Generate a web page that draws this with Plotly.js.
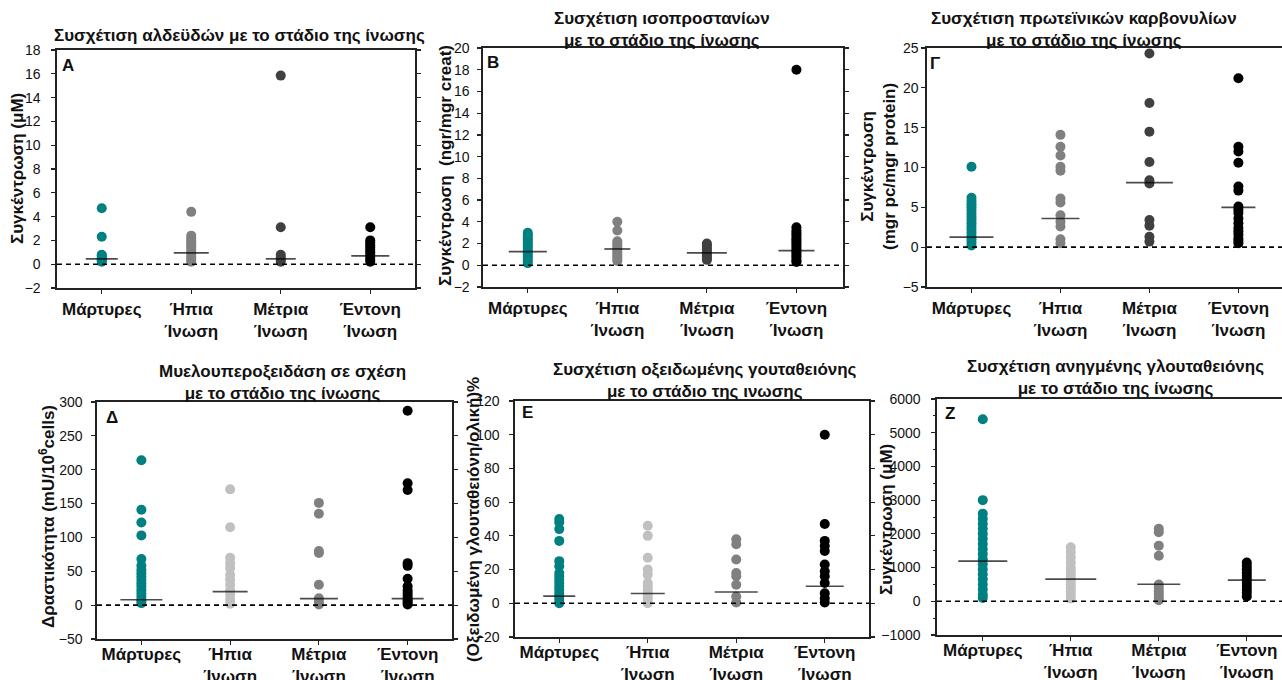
<!DOCTYPE html>
<html>
<head>
<meta charset="utf-8">
<script src="https://cdn.plot.ly/plotly-3.0.1.min.js"></script>
<style>html,body{margin:0;padding:0;background:#fff;}#chart{width:1282px;height:680px;}</style>
</head>
<body>
<div id="chart"></div>
<script>
// ---------------- DATA ----------------
const categories = ['Μάρτυρες', 'Ήπια Ίνωση', 'Μέτρια Ίνωση', 'Έντονη Ίνωση'];
const tickLabels = ['Μάρτυρες', 'Ήπια<br>Ίνωση', 'Μέτρια<br>Ίνωση', 'Έντονη<br>Ίνωση'];

// Α: aldehydes (μM)
const ald_controls = [4.7, 2.3, 0.8, 0.7, 0.6, 0.5, 0.4, 0.3, 0.2];
const ald_mild = [4.4, 2.4, 2.2, 2.0, 1.8, 1.6, 1.4, 1.2, 1.0, 0.8, 0.6, 0.4, 0.2];
const ald_moderate = [15.85, 3.1, 0.8, 0.6, 0.4, 0.2];
const ald_severe = [3.1, 2.0, 1.8, 1.6, 1.4, 1.2, 1.0, 0.8, 0.6, 0.4, 0.2];
const ald_medians = [0.45, 0.95, 0.45, 0.7];

// Β: isoprostanes (ngr/mgr creat)
const iso_controls = [3.0, 2.8, 2.6, 2.4, 2.2, 2.0, 1.8, 1.6, 1.4, 1.2, 1.0, 0.8, 0.6, 0.4, 0.2];
const iso_mild = [4.0, 3.2, 2.2, 2.0, 1.8, 1.6, 1.4, 1.2, 1.0, 0.8, 0.6, 0.4];
const iso_moderate = [2.0, 1.8, 1.6, 1.4, 1.2, 1.0, 0.8, 0.6, 0.5];
const iso_severe = [18.0, 3.5, 3.2, 3.0, 2.8, 2.6, 2.4, 2.2, 2.0, 1.8, 1.6, 1.4, 1.2, 1.0, 0.8, 0.6, 0.4, 0.3];
const iso_medians = [1.25, 1.5, 1.15, 1.35];

// Γ: protein carbonyls (mgr pc/mgr protein)
const carb_controls = [10.1, 6.2, 5.8, 5.4, 5.0, 4.6, 4.2, 3.8, 3.4, 3.0, 2.6, 2.2, 1.8, 1.4, 1.0, 0.6, 0.2];
const carb_mild = [14.1, 12.6, 11.5, 10.1, 9.6, 6.1, 5.6, 4.0, 3.2, 2.6, 1.0, 0.5];
const carb_moderate = [24.3, 18.1, 14.5, 10.7, 8.4, 8.0, 3.4, 2.7, 1.3, 0.7];
const carb_severe = [21.2, 12.6, 12.0, 10.6, 7.6, 7.1, 5.1, 4.7, 4.3, 3.6, 3.0, 2.4, 2.0, 1.6, 1.1, 0.8, 0.5];
const carb_medians = [1.25, 3.6, 8.1, 5.0];

// Δ: myeloperoxidase (mU/10^6 cells)
const mpo_controls = [214, 141, 122, 103, 68, 58, 52, 47, 42, 37, 32, 27, 22, 17, 12, 7, 3];
const mpo_mild = [171, 115, 70, 62, 55, 45, 38, 30, 22, 15, 8, 2];
const mpo_moderate = [151, 135, 80, 77, 30, 10, 5, 1];
const mpo_severe = [287, 180, 170, 62, 58, 39, 28, 22, 18, 14, 10, 7, 4, 1];
const mpo_medians = [8, 20, 9.5, 9.5];

// Ε: oxidized glutathione (% of total)
const gssg_controls = [50, 48, 44, 37, 25, 22, 18, 16, 14, 12, 10, 8, 6, 4, 2, 0];
const gssg_mild = [46, 40, 27, 20, 17, 12, 10, 8, 6, 4, 2, 0];
const gssg_moderate = [38, 35, 26, 18, 16, 11, 4, 0.5];
const gssg_severe = [100, 47, 37, 34, 31, 23, 19, 16, 12, 6, 3, 0.5];
const gssg_medians = [4.2, 5.8, 6.7, 10.1];

// Ζ: reduced glutathione (μM)
const gsh_controls = [5400, 3000, 2600, 2450, 2300, 2150, 2000, 1850, 1700, 1550, 1400, 1250, 1100, 950, 800, 650, 500, 350, 200, 100];
const gsh_mild = [1600, 1450, 1300, 1150, 1000, 900, 800, 700, 600, 500, 400, 300, 200, 80];
const gsh_moderate = [2150, 2050, 1650, 1350, 500, 400, 300, 200, 100, 30];
const gsh_severe = [1150, 1050, 950, 850, 750, 650, 550, 450, 350, 250, 140];
const gsh_medians = [1190, 660, 505, 630];

// ---------------- LAYOUT / STYLE ----------------
const W = 1282, H = 680;
const TEAL = '#008080';
const paletteTop = [TEAL, '#808080', '#404040', '#000000'];
const paletteBottom = [TEAL, '#c0c0c0', '#808080', '#000000'];
const FONT = 'Liberation Sans, Arial, sans-serif';
const TICKFONT = 'Liberation Sans Narrow, Arial Narrow, Liberation Sans, Arial, sans-serif';

const panels = [
  {groups: [ald_controls, ald_mild, ald_moderate, ald_severe], medians: ald_medians, pal: paletteTop,
   px: [57, 415], py: [50, 288], yr: [-2, 18], dt: 2, xr: [-0.5, 3.5], mirrorY: 'ticks', standoff: 8, xstand: 1, minor: false,
   medW: [32, 35, 30, 38],
   letter: 'Α', lx: 68, ly: 65,
   title: 'Συσχέτιση αλδεϋδών με το στάδιο της ίνωσης', tx: 239, ty: 35,
   ytitle: 'Συγκέντρωση (μΜ)', ytx: 17, yty: 169},
  {groups: [iso_controls, iso_mild, iso_moderate, iso_severe], medians: iso_medians, pal: paletteTop,
   px: [483, 843], py: [48, 287], yr: [-2, 20], dt: 2, xr: [-0.5, 3.52], mirrorY: 'ticks', standoff: 5, xstand: 1, minor: false,
   medW: [38, 26, 40, 36],
   letter: 'Β', lx: 493, ly: 62,
   title: 'Συσχέτιση ισοπροστανίων<br>με το στάδιο της ίνωσης', tx: 662, ty: 30,
   ytitle: 'Συγκέντρωση  (ngr/mgr creat)', ytx: 445, yty: 166},
  {groups: [carb_controls, carb_mild, carb_moderate, carb_severe], medians: carb_medians, pal: paletteTop,
   px: [927, 1282], py: [48, 287], yr: [-5, 25], dt: 5, xr: [-0.5, 3.49], mirrorY: false, standoff: 0, xstand: 1, minor: false,
   medW: [44, 38, 47, 34],
   letter: 'Γ', lx: 935, ly: 63,
   title: 'Συσχέτιση πρωτεϊνικών καρβονυλίων<br>με το στάδιο της ίνωσης', tx: 1084, ty: 30,
   ytitle: 'Συγκέντρωση<br>(mgr pc/mgr protein)', ytx: 878, yty: 167},
  {groups: [mpo_controls, mpo_mild, mpo_moderate, mpo_severe], medians: mpo_medians, pal: paletteBottom,
   px: [97, 452], py: [402, 639], yr: [-50, 300], dt: 50, xr: [-0.5, 3.5], mirrorY: 'ticks', standoff: 6, xstand: -5, minor: false,
   medW: [42, 35, 38, 32],
   letter: 'Δ', lx: 112, ly: 417,
   title: 'Μυελουπεροξειδάση σε σχέση<br>με το στάδιο της ίνωσης', tx: 282, ty: 382,
   ytitle: 'Δραστικότητα (mU/10<sup>6</sup>cells)', ytx: 47, yty: 517},
  {groups: [gssg_controls, gssg_mild, gssg_moderate, gssg_severe], medians: gssg_medians, pal: paletteBottom,
   px: [515, 869], py: [401, 637], yr: [-20, 120], dt: 20, xr: [-0.5, 3.5], mirrorY: 'ticks', standoff: 7, xstand: -5, minor: false,
   medW: [32, 34, 43, 38],
   letter: 'Ε', lx: 527, ly: 413,
   title: 'Συσχέτιση οξειδωμένης γουταθειόνης<br>με το στάδιο της ινωσης', tx: 705, ty: 380,
   ytitle: '(Οξειδωμένη γλουταθειόνη/ολική)%', ytx: 473, yty: 520},
  {groups: [gsh_controls, gsh_mild, gsh_moderate, gsh_severe], medians: gsh_medians, pal: paletteBottom,
   px: [937, 1282], py: [399, 635], yr: [-1000, 6000], dt: 1000, xr: [-0.52, 3.4], mirrorY: false, standoff: 8, xstand: -5, minor: true,
   medW: [49, 51, 43, 38],
   letter: 'Ζ', lx: 950, ly: 414,
   title: 'Συσχέτιση ανηγμένης γλουταθειόνης<br>με το στάδιο της ίνωσης', tx: 1115, ty: 377,
   ytitle: 'Συγκέντρωση (μΜ)', ytx: 886, yty: 520}
];

const fx = v => v / W;
const fy = v => 1 - v / H;

const traces = [];
const layout = {
  width: W, height: H, autosize: false,
  margin: {l: 0, r: 0, t: 0, b: 0, pad: 0},
  paper_bgcolor: '#fff', plot_bgcolor: 'rgba(0,0,0,0)',
  showlegend: false,
  font: {family: FONT, color: '#111'},
  shapes: [], annotations: []
};

panels.forEach((p, i) => {
  const n = i + 1;
  const xa = n === 1 ? 'x' : 'x' + n;
  const ya = n === 1 ? 'y' : 'y' + n;
  p.groups.forEach((vals, g) => {
    traces.push({
      type: 'scatter', mode: 'markers',
      x: vals.map(() => categories[g]), y: vals,
      xaxis: xa, yaxis: ya,
      marker: {color: p.pal[g], size: 10, line: {width: 0}},
      hoverinfo: 'y', cliponaxis: false
    });
  });
  traces.push({
    type: 'scatter', mode: 'markers',
    x: categories, y: p.medians, xaxis: xa, yaxis: ya,
    marker: {symbol: 'line-ew', color: '#000', size: p.medW.map(w => w / 1.4), line: {width: 1.7, color: '#000'}},
    hoverinfo: 'y', cliponaxis: false
  });

  layout['xaxis' + (n === 1 ? '' : n)] = {
    domain: [fx(p.px[0]), fx(p.px[1])], anchor: ya,
    type: 'category', categoryorder: 'array', categoryarray: categories,
    range: p.xr, tickvals: categories, ticktext: tickLabels,
    showgrid: false, zeroline: false, showline: true, mirror: true,
    linecolor: '#222', linewidth: 1.6,
    ticks: 'outside', ticklen: 4, tickwidth: 1.2, tickcolor: '#222',
    tickfont: {family: FONT, size: 17, color: '#111', weight: 'bold'},
    ticklabelstandoff: p.xstand, fixedrange: true
  };
  const yax = {
    domain: [fy(p.py[1]), fy(p.py[0])], anchor: xa,
    range: p.yr, dtick: p.dt, tick0: 0,
    showgrid: false, zeroline: false, showline: true, mirror: p.mirrorY,
    linecolor: '#222', linewidth: 1.6,
    ticks: 'outside', ticklen: 4, tickwidth: 1.2, tickcolor: '#222',
    tickfont: {family: TICKFONT, size: 14, color: '#111'},
    ticklabelstandoff: p.standoff, fixedrange: true
  };
  if (p.minor) {
    yax.minor = {dtick: p.dt / 2, ticks: 'outside', ticklen: 2, tickwidth: 1, tickcolor: '#222', showgrid: false};
  }
  layout['yaxis' + (n === 1 ? '' : n)] = yax;

  layout.shapes.push({
    type: 'line', xref: xa + ' domain', yref: ya, x0: 0, x1: 1, y0: 0, y1: 0,
    line: {color: '#000', width: 1.6, dash: '5px,4px'}
  });

  layout.annotations.push({
    xref: 'paper', yref: 'paper', x: fx(p.tx), y: fy(p.ty), xanchor: 'center', yanchor: 'middle',
    text: '<b>' + p.title + '</b>', showarrow: false, align: 'center',
    font: {family: FONT, size: 17, color: '#111'}
  });
  layout.annotations.push({
    xref: 'paper', yref: 'paper', x: fx(p.lx), y: fy(p.ly), xanchor: 'center', yanchor: 'middle',
    text: '<b>' + p.letter + '</b>', showarrow: false,
    font: {family: FONT, size: 17, color: '#111'}
  });
  layout.annotations.push({
    xref: 'paper', yref: 'paper', x: fx(p.ytx), y: fy(p.yty), xanchor: 'center', yanchor: 'middle',
    text: '<b>' + p.ytitle + '</b>', showarrow: false, textangle: -90, align: 'center',
    font: {family: FONT, size: 17, color: '#111'}
  });
});

Plotly.newPlot('chart', traces, layout, {displayModeBar: false, staticPlot: true});
</script>
</body>
</html>
